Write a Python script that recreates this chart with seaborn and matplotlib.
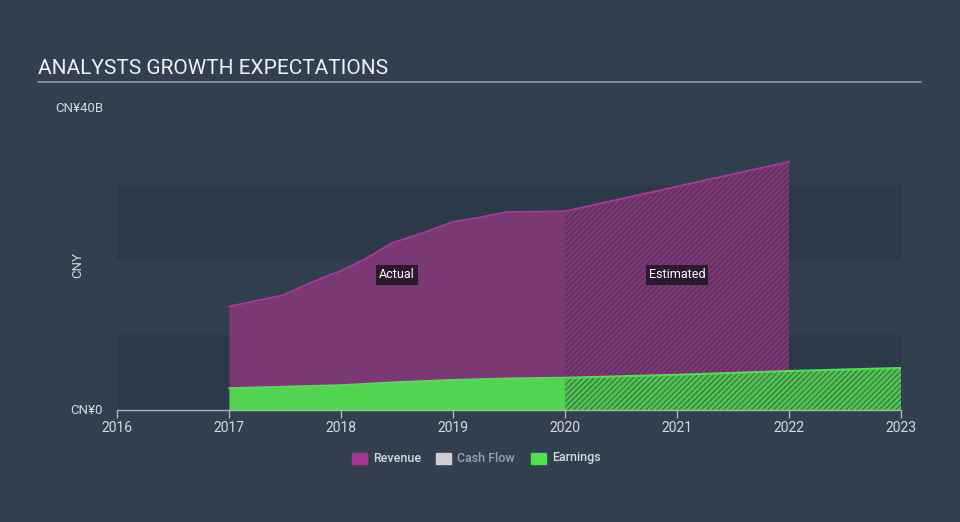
import matplotlib
matplotlib.use("Agg")
import matplotlib.pyplot as plt
import seaborn as sns
import pandas as pd
import numpy as np

# Data (CNY billions)
rev_act_x = [2017.0, 2017.48, 2017.75, 2018.02, 2018.2, 2018.46, 2018.73, 2019.0, 2019.21, 2019.48, 2020.0]
rev_act_y = [13.8, 15.3, 17.1, 18.7, 20.0, 22.3, 23.6, 25.1, 25.6, 26.4, 26.5]
rev_est_x = [2020.0, 2021.0, 2022.0]
rev_est_y = [26.5, 29.8, 33.1]
earn_act_x = [2017.0, 2017.5, 2018.0, 2018.5, 2019.0, 2019.5, 2020.0]
earn_act_y = [2.9, 3.1, 3.3, 3.7, 4.0, 4.2, 4.3]
earn_est_x = [2020.0, 2021.0, 2022.0, 2023.0]
earn_est_y = [4.3, 4.7, 5.2, 5.6]
years = [2016, 2017, 2018, 2019, 2020, 2021, 2022, 2023]
legend_labels = ["Revenue", "Cash Flow", "Earnings"]

BG = "#323f4f"
BAND = "#2c3948"
REV_FILL = "#7a3874"
REV_LINE = "#b0359e"
EARN_FILL = "#52d452"
EARN_LINE = "#4be34b"
TXT = "#d6d9dd"

sns.set_theme(style="dark")
plt.rcParams['font.family'] = ['Roboto', 'DejaVu Sans']
plt.rcParams['hatch.linewidth'] = 0.7

fig = plt.figure(figsize=(9.6, 5.22), dpi=100, facecolor=BG)
ax = fig.add_axes([117/960, 1-410/522, 784/960, 300/522])
ax.set_facecolor(BG)
ax.set_xlim(2016, 2023)
ax.set_ylim(0, 40)

# background bands
for lo, hi in [(0, 10), (20, 30)]:
    ax.axhspan(lo, hi, color=BAND, zorder=0, lw=0)

# revenue
ax.fill_between(rev_act_x, 0, rev_act_y, color=REV_FILL, lw=0, zorder=1)
ax.fill_between(rev_est_x, 0, rev_est_y, facecolor=REV_FILL, edgecolor="#5a2a58",
                hatch="//////", lw=0, zorder=1)
# earnings
ax.fill_between(earn_act_x, 0, earn_act_y, color=EARN_FILL, lw=0, zorder=2)
ax.fill_between(earn_est_x, 0, earn_est_y, facecolor="#52c052", edgecolor="#2f6e38",
                hatch="//////", lw=0, zorder=2)

rev_df = pd.DataFrame({"x": rev_act_x + rev_est_x[1:], "y": rev_act_y + rev_est_y[1:]})
earn_df = pd.DataFrame({"x": earn_act_x + earn_est_x[1:], "y": earn_act_y + earn_est_y[1:]})
sns.lineplot(data=rev_df, x="x", y="y", ax=ax, color=REV_LINE, lw=1.3, zorder=3)
sns.lineplot(data=earn_df, x="x", y="y", ax=ax, color=EARN_LINE, lw=1.5, zorder=3)

for s in ["top", "right", "left"]:
    ax.spines[s].set_visible(False)
ax.spines["bottom"].set_color("#aab4be")
ax.spines["bottom"].set_linewidth(1)
ax.set_xticks(years)
ax.set_xticklabels([str(y) for y in years], color=TXT, fontsize=10)
ax.tick_params(axis="x", direction="out", length=6, color="#aab4be", width=1, pad=2, bottom=True)
ax.set_yticks([])
ax.set_xlabel("")
ax.set_ylabel("")
ax.grid(False)

bbox = dict(boxstyle="square,pad=0.25", fc="#2a1a2e", ec="none")
ax.text(2018.5, 18, "Actual", color="white", fontsize=9, ha="center", va="center", bbox=bbox, zorder=5)
ax.text(2021.0, 18, "Estimated", color="white", fontsize=9, ha="center", va="center", bbox=bbox, zorder=5)

# title and labels
fig.text(38/960, 1-68/522, "ANALYSTS GROWTH EXPECTATIONS", color="#eef0f2", fontsize=15, va="center", ha="left")
fig.add_artist(plt.Line2D([38/960, 921/960], [1-82/522, 1-82/522], color="#8d9aa6", lw=1.2))
fig.text(55/960, 1-108/522, "CN¥40B", color=TXT, fontsize=9.5, va="center", ha="left")
fig.text(70/960, 1-410/522, "CN¥0", color=TXT, fontsize=9.5, va="center", ha="left")
fig.text(78/960, 1-265/522, "CNY", color=TXT, fontsize=9.5, va="center", ha="center", rotation=90)

# legend
items = [(352, legend_labels[0], "#a5378f", TXT), (436, legend_labels[1], "#cfcfcf", "#9aa3ad"),
         (531, legend_labels[2], "#4fe14f", TXT)]
for x0, lab, c, tc in items:
    fig.patches.append(plt.Rectangle((x0/960, 1-464/522), 15/960, 11/522, color=c, transform=fig.transFigure))
    fig.text((x0+21)/960, 1-458/522, lab, color=tc, fontsize=9, va="center", ha="left", weight="medium")

fig.savefig("out.png", dpi=100, facecolor=BG)
